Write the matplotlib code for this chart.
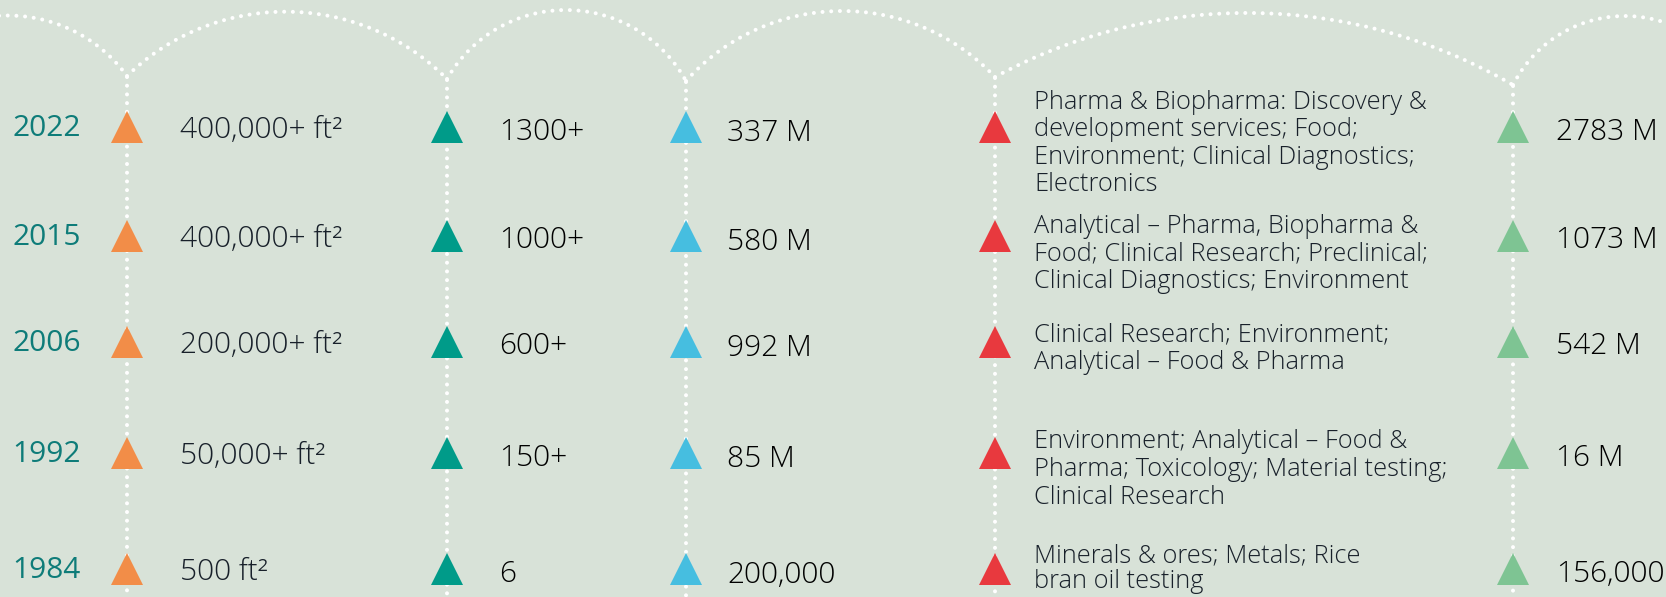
import numpy as np
import matplotlib
matplotlib.use("Agg")
import matplotlib.pyplot as plt
from matplotlib import font_manager as fm

# ---------------- data ----------------
years = ["2022", "2015", "2006", "1992", "1984"]
facility = ["400,000+ ft²", "400,000+ ft²", "200,000+ ft²", "50,000+ ft²", "500 ft²"]
staff = ["1300+", "1000+", "600+", "150+", "6"]
volume = ["337 M", "580 M", "992 M", "85 M", "200,000"]
sectors = [
    "Pharma & Biopharma: Discovery &\ndevelopment services; Food;\nEnvironment; Clinical Diagnostics;\nElectronics",
    "Analytical – Pharma, Biopharma &\nFood; Clinical Research; Preclinical;\nClinical Diagnostics; Environment",
    "Clinical Research; Environment;\nAnalytical – Food & Pharma",
    "Environment; Analytical – Food &\nPharma; Toxicology; Material testing;\nClinical Research",
    "Minerals & ores; Metals; Rice\nbran oil testing",
]
tests = ["2783 M", "1073 M", "542 M", "16 M", "156,000"]

# ---------------- layout / style ----------------
W, H = 1666, 597
BG = "#D8E2D8"
col_x = [127, 447, 686, 995, 1513]
cusp_y = [76, 79, 81, 77, 85]
arc_peaks = [(8, 15.5), (287, 11.7), (567, 10.0), (840, 11.0), (1254, 13.0), (1625, 16.0)]
row_y = [127, 236, 342, 453, 569]
tri_colors = ["#F28D48", "#009B89", "#46BEE0", "#E8393E", "#7EC493"]
year_x = 81
text_x = [180, 499, 727, 1034, 1556]
desc_baseline = [110, 234, 342, 449, 563]
desc_linespacing = [1.12, 1.14, 1.14, 1.17, 1.07]


def font_weights():
    avail = {}
    for f in fm.fontManager.ttflist:
        w = f.weight
        if isinstance(w, str):
            w = fm.weight_dict.get(w, 400)
        avail.setdefault(f.name, set()).add(int(w))
    return avail


AVAIL = font_weights()


def pick_family(cands, lo, hi, target):
    for c in cands:
        if c in AVAIL and any(lo <= w <= hi for w in AVAIL[c]):
            return c, target
    for c in cands:
        if c in AVAIL:
            return c, 400
    return "DejaVu Sans", 400


LIGHT_FAM, LIGHT_W = pick_family(["Open Sans", "Lato", "Roboto", "Noto Sans"], 200, 350, 300)
YEAR_FAM, YEAR_W = pick_family(["Open Sans"], 450, 550, 500)

fig = plt.figure(figsize=(W / 100, H / 100), dpi=100, facecolor=BG)
ax = fig.add_axes([0, 0, 1, 1])
ax.set_xlim(0, W)
ax.set_ylim(H, 0)
ax.set_facecolor(BG)
ax.axis("off")

dot_style = dict(color="white", lw=2.9, linestyle=(0, (0.01, 2.15)),
                 dash_capstyle="round", solid_capstyle="round", zorder=1)


def circle3(p1, p2, p3):
    (x1, y1), (x2, y2), (x3, y3) = p1, p2, p3
    d = 2 * (x1 * (y2 - y3) + x2 * (y3 - y1) + x3 * (y1 - y2))
    ux = ((x1**2 + y1**2) * (y2 - y3) + (x2**2 + y2**2) * (y3 - y1) + (x3**2 + y3**2) * (y1 - y2)) / d
    uy = ((x1**2 + y1**2) * (x3 - x2) + (x2**2 + y2**2) * (x1 - x3) + (x3**2 + y3**2) * (x2 - x1)) / d
    r = np.hypot(x1 - ux, y1 - uy)
    return ux, uy, r


# arc end points: mirrored points outside the figure for the two edge arcs
ends = [(2 * arc_peaks[0][0] - col_x[0], cusp_y[0])] + list(zip(col_x, cusp_y)) + \
       [(2 * arc_peaks[-1][0] - col_x[-1], cusp_y[-1])]
for k, peak in enumerate(arc_peaks):
    A, B = ends[k], ends[k + 1]
    cx, cy, r = circle3(A, peak, B)
    a1 = np.arctan2(A[1] - cy, A[0] - cx)
    a2 = np.arctan2(B[1] - cy, B[0] - cx)
    t = np.linspace(a1, a2, 400)
    ax.plot(cx + r * np.cos(t), cy + r * np.sin(t), **dot_style)

# vertical dotted lines
for x, y0 in zip(col_x, cusp_y):
    ax.plot([x, x], [y0 + 1, H + 10], **dot_style)

# triangles
for j, c in enumerate(tri_colors):
    ax.plot([col_x[j]] * len(row_y), row_y, linestyle="none", marker="^",
            markersize=22.5, markerfacecolor=c, markeredgewidth=0, zorder=3)

# texts
VAL_FS = 21.5
DARK = "#000000"
SLATE = "#18202A"
for i, y in enumerate(row_y):
    ax.text(year_x, y + 9, years[i], ha="right", va="baseline", fontsize=21.5,
            color="#0E7C79", family=YEAR_FAM, fontweight=YEAR_W)
    ax.text(text_x[0], y + 11, facility[i], ha="left", va="baseline", fontsize=VAL_FS,
            color=SLATE, family=LIGHT_FAM, fontweight=LIGHT_W)
    ax.text(text_x[1], y + 12.5, staff[i], ha="left", va="baseline", fontsize=VAL_FS,
            color=DARK, family=LIGHT_FAM, fontweight=LIGHT_W)
    ax.text(text_x[2], y + 14, volume[i], ha="left", va="baseline", fontsize=VAL_FS,
            color=DARK, family=LIGHT_FAM, fontweight=LIGHT_W)
    ax.text(text_x[4], y + 12.5, tests[i], ha="left", va="baseline", fontsize=VAL_FS,
            color=DARK, family=LIGHT_FAM, fontweight=LIGHT_W)
    ax.text(text_x[3], desc_baseline[i] - 20, sectors[i], ha="left", va="top",
            fontsize=18.3, color=SLATE, family=LIGHT_FAM, fontweight=LIGHT_W,
            linespacing=desc_linespacing[i])

fig.savefig("out.png", dpi=100, facecolor=BG)
